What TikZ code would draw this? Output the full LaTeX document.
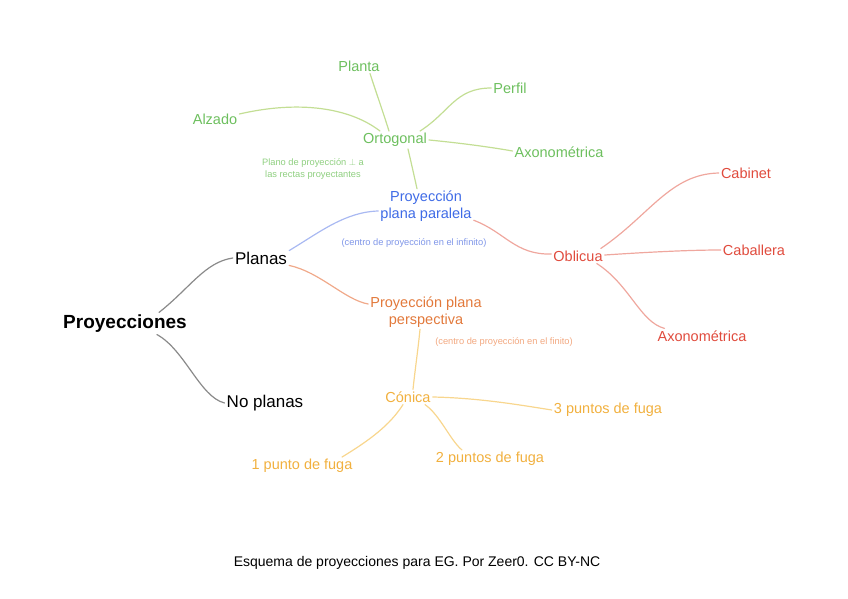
\documentclass[tikz,border=0pt]{standalone}
\usepackage{fontspec}
\setmainfont{Liberation Sans}
\usepackage{tikz}

\definecolor{grisl}{HTML}{8A8A8A}
\definecolor{verdet}{HTML}{6DBF5E}
\definecolor{verdel}{HTML}{C3DE94}
\definecolor{verden}{HTML}{8FCF80}
\definecolor{azult}{HTML}{3F6BE6}
\definecolor{azull}{HTML}{A9B9F2}
\definecolor{azuln}{HTML}{7F96E8}
\definecolor{naranjat}{HTML}{E2793B}
\definecolor{naranjal}{HTML}{F0A98A}
\definecolor{naranjan}{HTML}{F2A880}
\definecolor{rojot}{HTML}{E04B3D}
\definecolor{rojol}{HTML}{EFA79E}
\definecolor{amarillot}{HTML}{F1B03E}
\definecolor{amarillol}{HTML}{F8D68E}

\tikzset{
  raiz/.style={inner sep=2pt,yshift=-1.5pt,font=\fontsize{19}{22}\selectfont\bfseries},
  rama/.style={inner sep=2pt,yshift=-1pt,font=\fontsize{17}{20}\selectfont},
  hoja/.style={inner sep=2pt,yshift=-1pt,align=center,font=\fontsize{14.5}{16.5}\selectfont},
  nota/.style={inner sep=1pt,align=center,font=\fontsize{9.3}{12}\selectfont},
  con/.style={line width=1.2pt,line cap=round}
}

\begin{document}
\begin{tikzpicture}[x=1pt,y=-1pt]
\useasboundingbox (0,0) rectangle (848,599);
\node[raiz] (proy) at (125,322) {Proyecciones};
\node[rama] (planas) at (261,257) {Planas};
\node[rama] (noplanas) at (265,402) {No planas};
\node[hoja,text=azult] (paralela) at (426,205) {Proyección\\plana paralela};
\node[hoja,text=naranjat] (perspec) at (426,311) {Proyección plana\\perspectiva};
\node[hoja,text=verdet] (ortog) at (395,139) {Ortogonal};
\node[hoja,text=verdet] (planta) at (359,65) {Planta};
\node[hoja,text=verdet] (perfil) at (510,87) {Perfil};
\node[hoja,text=verdet] (alzado) at (215,118) {Alzado};
\node[hoja,text=verdet] (axog) at (559,151) {Axonométrica};
\node[nota,text=verden] (notaort) at (313,169) {Plano de proyección $\perp$ a\\las rectas proyectantes};
\node[nota,text=azuln] (notapar) at (414,243) {(centro de proyección en el infinito)};
\node[hoja,text=rojot] (oblicua) at (578,255) {Oblicua};
\node[hoja,text=rojot] (cabinet) at (746,172) {Cabinet};
\node[hoja,text=rojot] (caballera) at (754,249) {Caballera};
\node[hoja,text=rojot] (axob) at (702,335) {Axonométrica};
\node[nota,text=naranjan] (notaper) at (504,342) {(centro de proyección en el finito)};
\node[hoja,text=amarillot] (conica) at (408,396) {Cónica};
\node[hoja,text=amarillot] (tres) at (608,409) {3 puntos de fuga};
\node[hoja,text=amarillot] (dos) at (490,458) {2 puntos de fuga};
\node[hoja,text=amarillot] (uno) at (302,465) {1 punto de fuga};
\node[inner sep=0pt,font=\fontsize{14}{16}\selectfont] (pie) at (417,563) {Esquema de proyecciones para EG. Por Zeer0. CC BY-NC};

\draw[con,grisl] ([xshift=-30pt]proy.north east) .. controls (190,288) and (205,262) .. (planas.west);
\draw[con,grisl] ([xshift=-32pt]proy.south east) .. controls (185,350) and (200,397) .. (noplanas.west);
\draw[con,azull] ([yshift=-1pt]planas.north east) .. controls (320,232) and (345,212) .. ([yshift=-5pt]paralela.west);
\draw[con,naranjal] ([yshift=1pt]planas.south east) .. controls (320,272) and (345,300) .. ([yshift=8pt]perspec.west);
\draw[con,verdel] ([xshift=13pt]ortog.south) .. controls (411,162) and (414,175) .. ([xshift=-9pt]paralela.north);
\draw[con,verdel] ([xshift=11pt]planta.south) .. controls (377,95) and (384,115) .. ([xshift=-6pt]ortog.north);
\draw[con,verdel] ([yshift=5pt]alzado.east) .. controls (300,100) and (350,108) .. ([xshift=-15pt]ortog.north);
\draw[con,verdel] ([xshift=25pt]ortog.north) .. controls (450,112) and (455,88) .. (perfil.west);
\draw[con,verdel] (ortog.east) .. controls (460,143) and (490,147) .. ([yshift=1pt]axog.west);
\draw[con,rojol] ([yshift=3pt]paralela.south east) .. controls (505,232) and (515,255) .. ([yshift=2pt]oblicua.west);
\draw[con,rojol] ([xshift=-4pt]oblicua.north east) .. controls (650,215) and (670,174) .. (cabinet.west);
\draw[con,rojol] ([yshift=1pt]oblicua.east) .. controls (650,252) and (690,250) .. (caballera.west);
\draw[con,rojol] ([xshift=-8pt]oblicua.south east) .. controls (630,285) and (640,322) .. ([xshift=9pt]axob.north west);
\draw[con,amarillol] ([xshift=-6pt]perspec.south) .. controls (418,350) and (415,370) .. ([xshift=5pt]conica.north);
\draw[con,amarillol] (conica.east) .. controls (480,398) and (520,405) .. (tres.west);
\draw[con,amarillol] ([xshift=17pt]conica.south) .. controls (440,415) and (450,440) .. ([xshift=-28pt]dos.north);
\draw[con,amarillol] ([xshift=-5pt]conica.south) .. controls (390,425) and (370,440) .. ([xshift=40pt]uno.north);
\end{tikzpicture}
\end{document}
